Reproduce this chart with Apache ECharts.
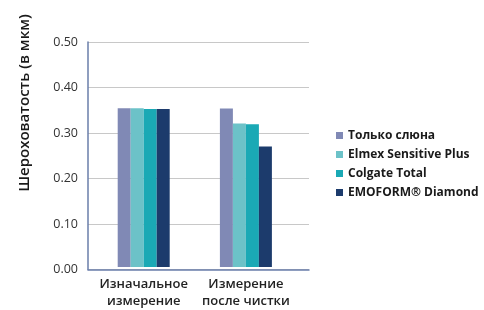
<!DOCTYPE html>
<html><head><meta charset="utf-8">
<script src="https://cdn.jsdelivr.net/npm/echarts@6/dist/echarts.min.js"></script>
<style>html,body{margin:0;padding:0;background:#fff}#c{width:484px;height:310px}</style>
</head><body><div id="c"></div>
<script>
const categories = ['Изначальное\nизмерение', 'Измерение\nпосле чистки'];
const seriesNames = ['Только слюна', 'Elmex Sensitive Plus', 'Colgate Total', 'EMOFORM® Diamond'];
const seriesColors = ['#8089b5', '#6cc2c8', '#1aa9b5', '#1c3b6c'];
const onlySaliva = [0.353, 0.352];
const elmex = [0.353, 0.319];
const colgate = [0.351, 0.317];
const emoform = [0.351, 0.268];
const yTicks = [0, 0.1, 0.2, 0.3, 0.4, 0.5];
const yTitle = 'Шероховатость (в мкм)';

const values = [onlySaliva, elmex, colgate, emoform];
const chart = echarts.init(document.getElementById('c'), null, {renderer: 'canvas'});
const font = 'Open Sans';
chart.setOption({
  animation: false,
  textStyle: {fontFamily: font},
  grid: [
    {left: 88, right: 175, top: 42, bottom: 40.5},
    {left: 92.6, right: 187, top: 42, bottom: 40.5}
  ],
  xAxis: [
    {type: 'category', gridIndex: 0, data: ['', ''], axisLine: {lineStyle: {color: '#6a7eaa', width: 1.5}},
     axisTick: {show: false}, axisLabel: {show: false}, splitLine: {show: false}, z: 5},
    {type: 'category', gridIndex: 1, data: categories, axisLine: {show: false}, axisTick: {show: false},
     axisLabel: {interval: 0, color: '#222', fontSize: 13, fontWeight: 600, lineHeight: 17, margin: 9, fontFamily: font}}
  ],
  yAxis: [
    {type: 'value', gridIndex: 0, min: yTicks[0], max: yTicks[yTicks.length - 1], interval: 0.1,
     axisLine: {show: true, lineStyle: {color: '#6a7eaa', width: 1.5}}, axisTick: {show: false},
     axisLabel: {color: '#333', fontSize: 12.5, margin: 10, formatter: v => v.toFixed(2)},
     splitLine: {lineStyle: {color: '#c8c8c8', width: 1}}},
    {type: 'value', gridIndex: 1, min: 0, max: 0.5, interval: 0.1, show: false, splitLine: {show: false}}
  ],
  legend: {
    orient: 'vertical', left: 331, top: 124, itemWidth: 7, itemHeight: 7, itemGap: 6,
    icon: 'rect', data: seriesNames,
    textStyle: {color: '#1a1a1a', fontSize: 12, lineHeight: 13, fontWeight: 'bold', fontFamily: font}
  },
  graphic: [{
    type: 'text', x: 25, y: 103, rotation: Math.PI / 2,
    style: {text: yTitle, fill: '#1a1a1a', font: '600 15px "Open Sans"', textAlign: 'center', textVerticalAlign: 'middle'}
  }],
  series: seriesNames.map((n, i) => ({
    name: n, type: 'bar', xAxisIndex: 1, yAxisIndex: 1, data: values[i],
    barWidth: 13, barGap: '0%', itemStyle: {color: seriesColors[i]}
  }))
});
</script></body></html>
